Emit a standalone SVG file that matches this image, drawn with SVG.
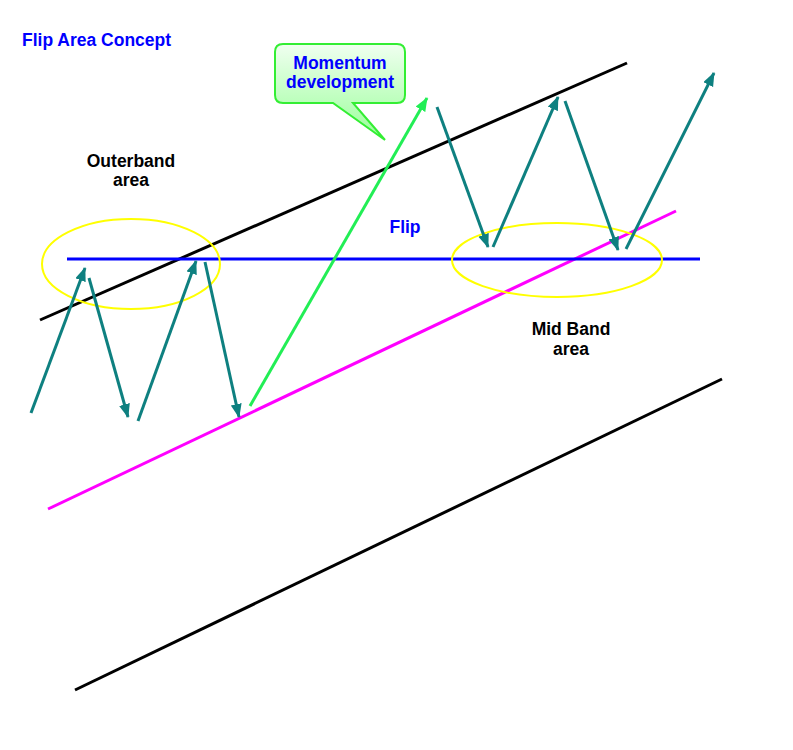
<svg xmlns="http://www.w3.org/2000/svg" width="793" height="750" viewBox="0 0 793 750">
<style>
.lbl{font-family:"Liberation Sans",Arial,sans-serif;font-weight:bold;font-size:17.5px}
.blue{fill:#0000ff}
.blk{fill:#000000}
.band{fill:none;stroke-width:3}
.ar{fill:none;stroke:#0e8080;stroke-width:3;marker-end:url(#ah)}
.ell{fill:none;stroke:#ffff00;stroke-width:2}
</style>
<defs>
<marker id="ah" markerUnits="userSpaceOnUse" markerWidth="14" markerHeight="12" refX="13" refY="5.5" orient="auto">
<path d="M0,0 L14,5.5 L0,11 z" fill="#0e8080"/>
</marker>
<marker id="ahg" markerUnits="userSpaceOnUse" markerWidth="14" markerHeight="12" refX="13" refY="5.5" orient="auto">
<path d="M0,0 L14,5.5 L0,11 z" fill="#22ee55"/>
</marker>
<linearGradient id="cg" x1="0" y1="0" x2="0" y2="1">
<stop offset="0" stop-color="#f0fff0"/>
<stop offset="1" stop-color="#99ff99"/>
</linearGradient>
</defs>
<rect width="793" height="750" fill="#ffffff"/>
<g id="bands">
<line class="band" x1="40" y1="320" x2="627" y2="63" stroke="#000000"/>
<line class="band" x1="75" y1="690" x2="722" y2="379" stroke="#000000"/>
<line class="band" x1="48" y1="509" x2="676" y2="211" stroke="#ff00ff"/>
<line class="band" x1="67" y1="259" x2="700" y2="259" stroke="#0000ff"/>
</g>
<g id="areas">
<ellipse class="ell" cx="131" cy="264" rx="89" ry="45"/>
<ellipse class="ell" cx="557" cy="260" rx="105" ry="37"/>
</g>
<g id="connectors">
<line class="ar" x1="31" y1="413" x2="85" y2="268"/>
<line class="ar" x1="89" y1="278" x2="128" y2="417"/>
<line class="ar" x1="138" y1="421" x2="196" y2="261"/>
<line class="ar" x1="205" y1="262" x2="239" y2="417"/>
<line x1="250" y1="406" x2="427" y2="98" stroke="#22ee55" stroke-width="3" marker-end="url(#ahg)"/>
<line class="ar" x1="437" y1="107" x2="488" y2="247"/>
<line class="ar" x1="493" y1="247" x2="558" y2="97"/>
<line class="ar" x1="565" y1="101" x2="618" y2="250"/>
<line class="ar" x1="626" y1="249" x2="714" y2="73"/>
</g>
<g id="title"><text class="lbl blue" x="22" y="46">Flip Area Concept</text></g>
<g id="callout">
<path d="M283,44 H397 Q405,44 405,52 V95 Q405,103 397,103 H353 L385,140 L333,103 H283 Q275,103 275,95 V52 Q275,44 283,44 Z" fill="url(#cg)" stroke="#33ee33" stroke-width="2"/>
<text class="lbl blue" x="340" y="69" text-anchor="middle">Momentum</text>
<text class="lbl blue" x="340" y="88" text-anchor="middle">development</text>
</g>
<g id="outerband">
<text class="lbl blk" x="131" y="167" text-anchor="middle">Outerband</text>
<text class="lbl blk" x="131" y="186" text-anchor="middle">area</text>
</g>
<g id="flip"><text class="lbl blue" x="405" y="233" text-anchor="middle">Flip</text></g>
<g id="midband">
<text class="lbl blk" x="571" y="335" text-anchor="middle">Mid Band</text>
<text class="lbl blk" x="571" y="355" text-anchor="middle">area</text>
</g>
</svg>
